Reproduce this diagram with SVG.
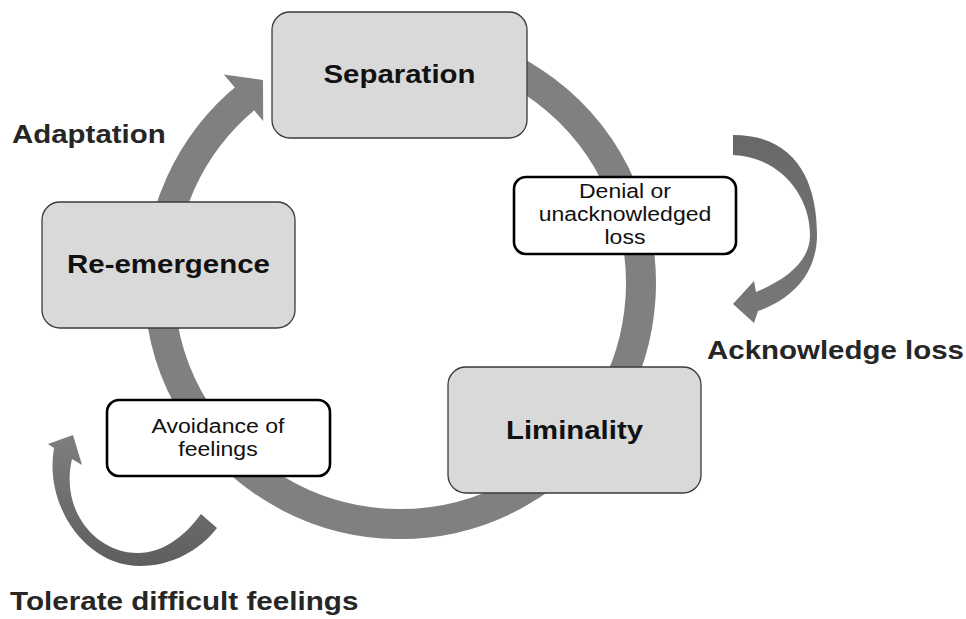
<svg xmlns="http://www.w3.org/2000/svg" width="966" height="619" viewBox="0 0 966 619">
<style>
.stage{fill:#d9d9d9;stroke:#3a3a3a;stroke-width:1.3}
.note{fill:#ffffff;stroke:#000000;stroke-width:2.6}
.big{font-family:"Liberation Sans",Arial,sans-serif;font-weight:bold;font-size:25.6px;fill:#111111}
.lab{font-family:"Liberation Sans",Arial,sans-serif;font-weight:bold;font-size:25.6px;fill:#262626}
.small{font-family:"Liberation Sans",Arial,sans-serif;font-size:20px;fill:#111111;text-anchor:middle}
.ring{fill:none;stroke:#808080;stroke-width:30}
</style>
<defs>
<linearGradient id="gR" x1="0" y1="0" x2="0" y2="1">
<stop offset="0" stop-color="#686868"/>
<stop offset="1" stop-color="#787878"/>
</linearGradient>
<linearGradient id="gL" x1="0" y1="0" x2="0" y2="1">
<stop offset="0" stop-color="#7e7e7e"/>
<stop offset="1" stop-color="#5e5e5e"/>
</linearGradient>
</defs>
<g id="connectors">
<path class="ring" d="M317.6,56.5 A241,241 0 1 1 248.3,95.7"/>
<polygon fill="#808080" points="223.8,74.5 263,79.9 263.2,121.1"/>
<path id="acknowledge-arrow" fill="url(#gR)" d="M733,135 C795,135 817,180 817,235 C817,275 790,300 758,311 L754,323 L733,304 L754,281 L756,292 C785,280 810,262 810,235 C810,195 780,157 733,155 Z"/>
<path id="tolerate-arrow" fill="url(#gL)" d="M54,448 C44,505 85,566 140,566 C172,566 200,550 217,528 L201,514 C185,536 163,553 138,553 C95,553 60,510 72,459 L82,465 L73,435 L48,444 Z"/>
</g>
<g id="separation">
<rect class="stage" x="272" y="12" width="255" height="126" rx="18"/>
<text class="big" x="399.5" y="83" text-anchor="middle" textLength="152" lengthAdjust="spacingAndGlyphs">Separation</text>
</g>
<g id="re-emergence">
<rect class="stage" x="42" y="202" width="253" height="126" rx="18"/>
<text class="big" x="168.5" y="273" text-anchor="middle" textLength="203" lengthAdjust="spacingAndGlyphs">Re-emergence</text>
</g>
<g id="liminality">
<rect class="stage" x="448" y="367" width="253" height="126" rx="18"/>
<text class="big" x="574.5" y="439" text-anchor="middle" textLength="137" lengthAdjust="spacingAndGlyphs">Liminality</text>
</g>
<g id="denial">
<rect class="note" x="514" y="177" width="222" height="77" rx="12"/>
<text class="small" x="625" y="198" textLength="92" lengthAdjust="spacingAndGlyphs">Denial or</text>
<text class="small" x="625" y="221" textLength="172.6" lengthAdjust="spacingAndGlyphs">unacknowledged</text>
<text class="small" x="625" y="244" textLength="41" lengthAdjust="spacingAndGlyphs">loss</text>
</g>
<g id="avoidance">
<rect class="note" x="107" y="400" width="223" height="76" rx="12"/>
<text class="small" x="218" y="433" textLength="133" lengthAdjust="spacingAndGlyphs">Avoidance of</text>
<text class="small" x="218" y="456" textLength="79.3" lengthAdjust="spacingAndGlyphs">feelings</text>
</g>
<g id="adaptation">
<text class="lab" x="12" y="143" textLength="153.7" lengthAdjust="spacingAndGlyphs">Adaptation</text>
</g>
<g id="acknowledge-loss">
<text class="lab" x="707" y="359" textLength="256.9" lengthAdjust="spacingAndGlyphs">Acknowledge loss</text>
</g>
<g id="tolerate">
<text class="lab" x="10" y="610" textLength="348.4" lengthAdjust="spacingAndGlyphs">Tolerate difficult feelings</text>
</g>
</svg>
